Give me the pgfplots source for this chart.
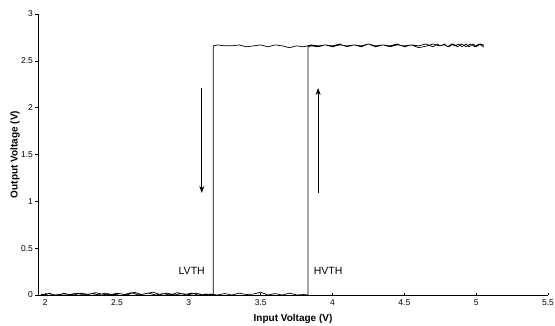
\documentclass[border=0pt]{standalone}
\usepackage{pgfplots}
\pgfplotsset{compat=1.18}
\usetikzlibrary{arrows.meta}
\usepackage{fontspec}
\setmainfont{Liberation Sans}
\begin{document}
\begin{tikzpicture}
\useasboundingbox (-38pt,-30pt) rectangle (517pt,295pt);
\begin{axis}[
  scale only axis,
  width=510pt, height=281pt,
  xmin=1.95, xmax=5.5, ymin=0, ymax=3,
  axis x line*=bottom, axis y line*=left,
  xtick={2,2.5,3,3.5,4,4.5,5,5.5},
  ytick={0,0.5,1,1.5,2,2.5,3},
  xticklabels={2,2.5,3,3.5,4,4.5,5,5.5},
  yticklabels={0,0.5,1,1.5,2,2.5,3},
  tick label style={font=\fontsize{8.5}{9}\selectfont},
  x tick label style={yshift=-1pt},
  y tick label style={xshift=1pt},
  major tick length=2.5pt,
  xtick align=inside, ytick align=outside,
  axis line style={line width=0.8pt},
  tick style={black, line width=0.5pt},
  xlabel={Input Voltage (V)},
  ylabel={Output Voltage (V)},
  label style={font=\fontsize{10}{11}\selectfont\bfseries},
  xlabel style={at={(axis description cs:0.5,0)}, anchor=center, yshift=-24pt},
  ylabel style={at={(axis description cs:-0.045,0.5)}, anchor=center},
  clip=false,
]
\addplot[black, line width=0.7pt, mark=none] coordinates {
(1.97,0.01) (2.00,0.0) (2.03,0.02) (2.05,0.005) (2.10,-0.003) (2.13,0.02) (2.15,0.01) (2.20,0.0) (2.25,0.02) (2.30,0.005)
(2.35,0.025) (2.40,0.008) (2.45,0.0) (2.50,0.02) (2.55,0.005) (2.60,0.025) (2.65,0.0) (2.70,0.015)
(2.75,0.03) (2.80,0.005) (2.85,0.02) (2.90,0.0) (2.95,0.015) (3.00,0.005) (3.05,0.02) (3.10,0.0)
(3.15,0.01) (3.20,0.0) (3.25,0.015) (3.30,0.0) (3.35,0.02) (3.40,0.005) (3.45,0.01) (3.50,0.03)
(3.55,0.0) (3.60,0.015) (3.65,0.0) (3.70,0.02) (3.75,0.0) (3.80,0.005) (3.83,0.0)
(3.83,2.65)
(3.85,2.66) (3.90,2.65) (3.95,2.67) (4.00,2.66) (4.05,2.68) (4.10,2.65) (4.15,2.67) (4.20,2.66)
(4.25,2.68) (4.30,2.65) (4.35,2.67) (4.40,2.66) (4.45,2.68) (4.50,2.65) (4.55,2.67) (4.60,2.66)
(4.65,2.68) (4.70,2.65) (4.73,2.68) (4.75,2.66) (4.78,2.68) (4.80,2.65) (4.83,2.68) (4.85,2.66)
(4.88,2.68) (4.90,2.65) (4.93,2.68) (4.95,2.65) (4.98,2.68) (5.00,2.65) (5.03,2.68)
(5.05,2.67) (5.05,2.65) (5.02,2.68) (4.99,2.65) (4.96,2.68) (4.93,2.65) (4.90,2.68) (4.87,2.65)
(4.84,2.68) (4.81,2.65) (4.78,2.67) (4.74,2.66) (4.70,2.68) (4.66,2.66) (4.60,2.64) (4.55,2.67) (4.50,2.66) (4.45,2.67)
(4.40,2.65) (4.35,2.67) (4.30,2.66) (4.25,2.68) (4.20,2.65) (4.15,2.67) (4.10,2.66) (4.05,2.67)
(4.00,2.65) (3.95,2.67) (3.90,2.66) (3.85,2.67) (3.80,2.65) (3.75,2.66) (3.70,2.64) (3.65,2.66)
(3.60,2.67) (3.55,2.65) (3.50,2.67) (3.45,2.66) (3.40,2.65) (3.35,2.67) (3.30,2.66) (3.25,2.66)
(3.20,2.67) (3.17,2.66)
(3.17,0.0)
(3.12,0.01) (3.07,-0.004) (3.02,0.02) (2.97,0.005) (2.92,0.025) (2.87,0.0) (2.82,0.015) (2.77,0.0)
(2.72,0.02) (2.67,0.005) (2.62,0.03) (2.57,0.0) (2.52,0.015) (2.47,0.0) (2.42,0.02) (2.37,0.003)
(2.32,0.015) (2.27,0.0) (2.22,0.02) (2.17,0.005) (2.12,0.012) (2.07,0.0) (2.02,0.015) (1.97,0.0)
};
\addplot[black, line width=0.7pt, -{Stealth[length=7pt,width=5pt]}] coordinates {(3.09,2.21) (3.09,1.09)};
\addplot[black, line width=0.7pt, -{Stealth[length=7pt,width=5pt]}] coordinates {(3.90,1.09) (3.90,2.21)};
\node[font=\fontsize{10.5}{11}\selectfont] at (axis cs:3.02,0.26) {LVTH};
\node[font=\fontsize{10.5}{11}\selectfont] at (axis cs:3.97,0.26) {HVTH};
\end{axis}
\end{tikzpicture}
\end{document}
